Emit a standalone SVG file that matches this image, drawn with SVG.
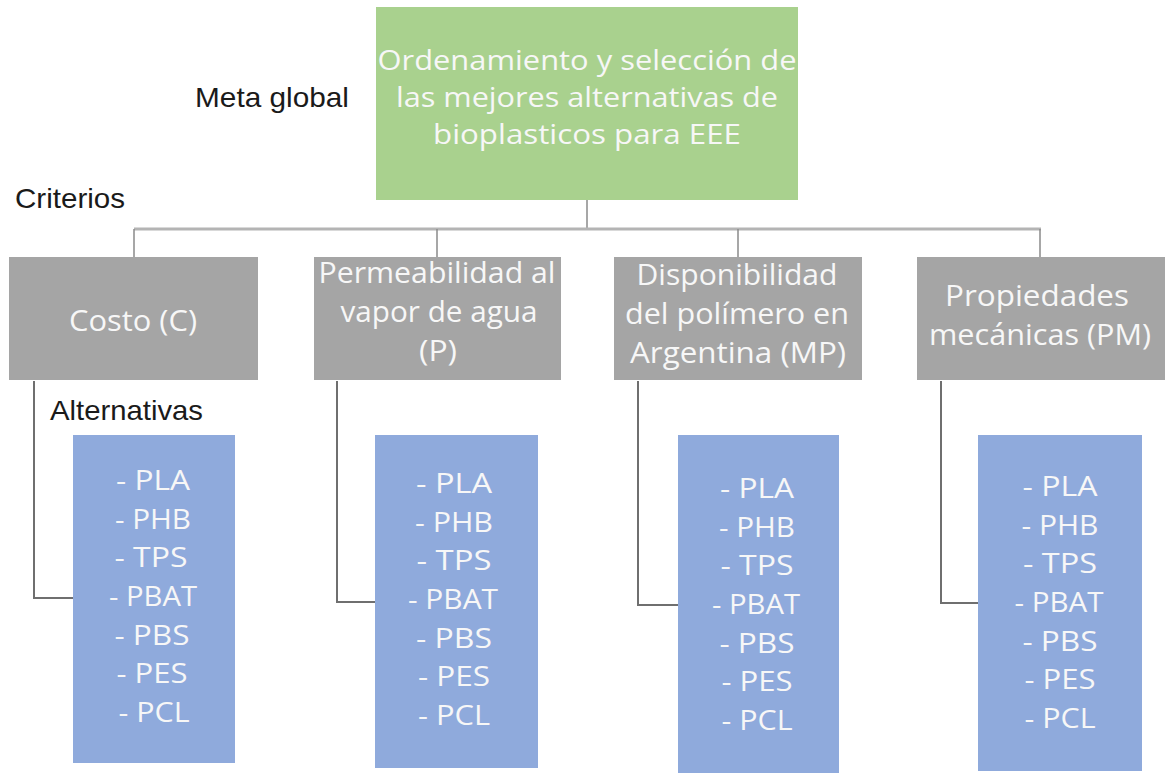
<svg xmlns="http://www.w3.org/2000/svg" width="1165" height="773" viewBox="0 0 1165 773">
<style>
.lbl{font-family:"Liberation Sans",Arial,sans-serif;font-size:28px;fill:#1a1a1a}
.wt{font-family:"Open Sans","Noto Sans",sans-serif;fill:#f7f7f7;text-anchor:middle}
.g{font-size:28px}
.c{font-size:29px}
.a{font-size:27px}
.green{fill:#a9d18e}
.gray{fill:#a5a5a5}
.blue{fill:#8faadc}
.top{stroke:#b4b4b4;stroke-width:3;fill:none}
.drop{stroke:#8a8a8a;stroke-width:1.5;fill:none}
.sub{stroke:#6f6f6f;stroke-width:2;fill:none}
</style>
<rect width="1165" height="773" fill="#ffffff"/>
<g id="connectors">
<line class="drop" x1="587" y1="200" x2="587" y2="229"/>
<line class="top" x1="134" y1="229" x2="1041" y2="229"/>
<line class="drop" x1="134" y1="229" x2="134" y2="257"/>
<line class="drop" x1="437" y1="229" x2="437" y2="257"/>
<line class="drop" x1="738" y1="229" x2="738" y2="257"/>
<line class="drop" x1="1040" y1="229" x2="1040" y2="257"/>
<polyline class="sub" points="34,381 34,598 73,598"/>
<polyline class="sub" points="337,381 337,602 375,602"/>
<polyline class="sub" points="638,381 638,605 678,605"/>
<polyline class="sub" points="941,381 941,603 978,603"/>
</g>
<g id="labels">
<text class="lbl" x="195" y="107" textLength="154" lengthAdjust="spacingAndGlyphs">Meta global</text>
<text class="lbl" x="15" y="208" textLength="110" lengthAdjust="spacingAndGlyphs">Criterios</text>
<text class="lbl" x="50" y="420" textLength="153" lengthAdjust="spacingAndGlyphs">Alternativas</text>
</g>
<g id="goal">
<rect class="green" x="376" y="7" width="422" height="193"/>
<text class="wt g" x="587" y="70" textLength="419" lengthAdjust="spacingAndGlyphs">Ordenamiento y selección de</text>
<text class="wt g" x="587" y="107" textLength="382" lengthAdjust="spacingAndGlyphs">las mejores alternativas de</text>
<text class="wt g" x="587" y="144" textLength="308" lengthAdjust="spacingAndGlyphs">bioplasticos para EEE</text>
</g>
<g id="crit-costo">
<rect class="gray" x="9" y="257" width="249" height="123"/>
<text class="wt c" x="133" y="331" textLength="128" lengthAdjust="spacingAndGlyphs">Costo (C)</text>
</g>
<g id="crit-permeabilidad">
<rect class="gray" x="314" y="257" width="247" height="123"/>
<text class="wt c" x="437" y="283" textLength="237" lengthAdjust="spacingAndGlyphs">Permeabilidad al</text>
<text class="wt c" x="439" y="322" textLength="197" lengthAdjust="spacingAndGlyphs">vapor de agua</text>
<text class="wt c" x="438" y="361" textLength="38" lengthAdjust="spacingAndGlyphs">(P)</text>
</g>
<g id="crit-disponibilidad">
<rect class="gray" x="614" y="257" width="248" height="123"/>
<text class="wt c" x="737" y="285" textLength="201" lengthAdjust="spacingAndGlyphs">Disponibilidad</text>
<text class="wt c" x="737" y="324" textLength="224" lengthAdjust="spacingAndGlyphs">del polímero en</text>
<text class="wt c" x="738" y="363" textLength="216" lengthAdjust="spacingAndGlyphs">Argentina (MP)</text>
</g>
<g id="crit-propiedades">
<rect class="gray" x="917" y="257" width="248" height="123"/>
<text class="wt c" x="1037" y="306" textLength="184" lengthAdjust="spacingAndGlyphs">Propiedades</text>
<text class="wt c" x="1040" y="345" textLength="222" lengthAdjust="spacingAndGlyphs">mecánicas (PM)</text>
</g>
<g id="alt-1">
<rect class="blue" x="73" y="435" width="162" height="328"/>
<text class="wt a" x="153" y="490" textLength="74" lengthAdjust="spacingAndGlyphs">- PLA</text>
<text class="wt a" x="153" y="529" textLength="76" lengthAdjust="spacingAndGlyphs">- PHB</text>
<text class="wt a" x="151" y="567" textLength="73" lengthAdjust="spacingAndGlyphs">- TPS</text>
<text class="wt a" x="153" y="606" textLength="88" lengthAdjust="spacingAndGlyphs">- PBAT</text>
<text class="wt a" x="152" y="645" textLength="75" lengthAdjust="spacingAndGlyphs">- PBS</text>
<text class="wt a" x="152" y="683" textLength="71" lengthAdjust="spacingAndGlyphs">- PES</text>
<text class="wt a" x="154" y="722" textLength="71" lengthAdjust="spacingAndGlyphs">- PCL</text>
</g>
<g id="alt-2">
<rect class="blue" x="375" y="435" width="163" height="333"/>
<text class="wt a" x="454" y="493" textLength="76" lengthAdjust="spacingAndGlyphs">- PLA</text>
<text class="wt a" x="454" y="532" textLength="78" lengthAdjust="spacingAndGlyphs">- PHB</text>
<text class="wt a" x="454" y="570" textLength="75" lengthAdjust="spacingAndGlyphs">- TPS</text>
<text class="wt a" x="453" y="609" textLength="90" lengthAdjust="spacingAndGlyphs">- PBAT</text>
<text class="wt a" x="454" y="648" textLength="76" lengthAdjust="spacingAndGlyphs">- PBS</text>
<text class="wt a" x="454" y="686" textLength="72" lengthAdjust="spacingAndGlyphs">- PES</text>
<text class="wt a" x="454" y="725" textLength="72" lengthAdjust="spacingAndGlyphs">- PCL</text>
</g>
<g id="alt-3">
<rect class="blue" x="678" y="435" width="161" height="338"/>
<text class="wt a" x="757" y="498" textLength="74" lengthAdjust="spacingAndGlyphs">- PLA</text>
<text class="wt a" x="757" y="537" textLength="76" lengthAdjust="spacingAndGlyphs">- PHB</text>
<text class="wt a" x="757" y="575" textLength="73" lengthAdjust="spacingAndGlyphs">- TPS</text>
<text class="wt a" x="756" y="614" textLength="88" lengthAdjust="spacingAndGlyphs">- PBAT</text>
<text class="wt a" x="757" y="653" textLength="75" lengthAdjust="spacingAndGlyphs">- PBS</text>
<text class="wt a" x="757" y="691" textLength="71" lengthAdjust="spacingAndGlyphs">- PES</text>
<text class="wt a" x="757" y="730" textLength="71" lengthAdjust="spacingAndGlyphs">- PCL</text>
</g>
<g id="alt-4">
<rect class="blue" x="978" y="435" width="164" height="336"/>
<text class="wt a" x="1060" y="496" textLength="75" lengthAdjust="spacingAndGlyphs">- PLA</text>
<text class="wt a" x="1060" y="535" textLength="77" lengthAdjust="spacingAndGlyphs">- PHB</text>
<text class="wt a" x="1060" y="573" textLength="74" lengthAdjust="spacingAndGlyphs">- TPS</text>
<text class="wt a" x="1059" y="612" textLength="89" lengthAdjust="spacingAndGlyphs">- PBAT</text>
<text class="wt a" x="1060" y="651" textLength="75" lengthAdjust="spacingAndGlyphs">- PBS</text>
<text class="wt a" x="1060" y="689" textLength="71" lengthAdjust="spacingAndGlyphs">- PES</text>
<text class="wt a" x="1060" y="728" textLength="71" lengthAdjust="spacingAndGlyphs">- PCL</text>
</g>
</svg>
